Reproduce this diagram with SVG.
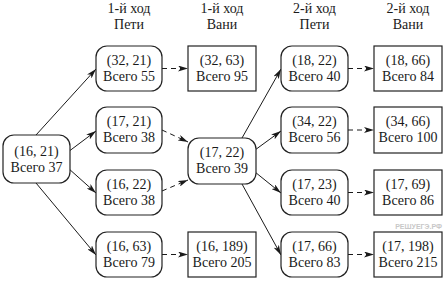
<svg xmlns="http://www.w3.org/2000/svg" width="444" height="281" viewBox="0 0 444 281">
<style>
text{font-family:"Liberation Serif","Times New Roman",serif;font-size:14px;fill:#1a1a1a;text-anchor:middle}
.n{fill:#fff;stroke:#222;stroke-width:1.2}
.c{stroke:#1a1a1a;stroke-width:1;fill:none}
.d{stroke-dasharray:5,4}
.wm{font-family:"Liberation Sans",Arial,sans-serif;font-size:7px;fill:#c8c8c8;font-weight:bold;text-anchor:end}
</style>
<defs>
<marker id="a" viewBox="0 0 10 6" refX="10" refY="3" markerWidth="10" markerHeight="6" markerUnits="userSpaceOnUse" orient="auto">
<path d="M0,0 L10,3 L0,6 L2.5,3 z" fill="#1a1a1a"/>
</marker>
</defs>
<g id="headers">
<text x="129" y="13">1-й ход</text><text x="129" y="29">Пети</text>
<text x="222" y="13">1-й ход</text><text x="222" y="29">Вани</text>
<text x="314.5" y="13">2-й ход</text><text x="314.5" y="29">Пети</text>
<text x="408" y="13">2-й ход</text><text x="408" y="29">Вани</text>
</g>
<g id="connectors">
<line class="c" x1="36" y1="135" x2="96" y2="69" marker-end="url(#a)"/>
<line class="c" x1="68" y1="152" x2="96" y2="131" marker-end="url(#a)"/>
<line class="c" x1="68" y1="168" x2="96" y2="193" marker-end="url(#a)"/>
<line class="c" x1="36" y1="183" x2="96" y2="255" marker-end="url(#a)"/>
<line class="c d" x1="162" y1="68.5" x2="188" y2="68.5" marker-end="url(#a)"/>
<line class="c d" x1="162" y1="130" x2="188" y2="142" marker-end="url(#a)"/>
<line class="c d" x1="162" y1="191" x2="188" y2="180" marker-end="url(#a)"/>
<line class="c d" x1="162" y1="254.5" x2="188" y2="254.5" marker-end="url(#a)"/>
<line class="c" x1="242" y1="138" x2="281" y2="69" marker-end="url(#a)"/>
<line class="c" x1="255" y1="150" x2="281" y2="131" marker-end="url(#a)"/>
<line class="c" x1="255" y1="172" x2="281" y2="193" marker-end="url(#a)"/>
<line class="c" x1="242" y1="184" x2="281" y2="255" marker-end="url(#a)"/>
<line class="c d" x1="348" y1="68.5" x2="374" y2="68.5" marker-end="url(#a)"/>
<line class="c d" x1="348" y1="130" x2="374" y2="130" marker-end="url(#a)"/>
<line class="c d" x1="348" y1="192.5" x2="374" y2="192.5" marker-end="url(#a)"/>
<line class="c d" x1="348" y1="254.5" x2="374" y2="254.5" marker-end="url(#a)"/>
</g>
<g id="root"><rect class="n" x="3" y="135" width="67" height="48" rx="11"/><text x="36.5" y="156">(16, 21)</text><text x="36.5" y="172">Всего 37</text></g>
<g id="p1a"><rect class="n" x="96" y="46" width="66" height="45" rx="11"/><text x="129" y="64.5">(32, 21)</text><text x="129" y="80.5">Всего 55</text></g>
<g id="p1b"><rect class="n" x="96" y="107" width="66" height="46" rx="11"/><text x="129" y="126">(17, 21)</text><text x="129" y="142">Всего 38</text></g>
<g id="p1c"><rect class="n" x="96" y="170" width="66" height="45" rx="11"/><text x="129" y="188.5">(16, 22)</text><text x="129" y="204.5">Всего 38</text></g>
<g id="p1d"><rect class="n" x="96" y="232" width="66" height="45" rx="11"/><text x="129" y="250.5">(16, 63)</text><text x="129" y="266.5">Всего 79</text></g>
<g id="v1a"><rect class="n" x="188" y="46" width="68" height="45"/><text x="222" y="64.5">(32, 63)</text><text x="222" y="80.5">Всего 95</text></g>
<g id="v1b"><rect class="n" x="188" y="138" width="68" height="46" rx="11"/><text x="222" y="157">(17, 22)</text><text x="222" y="173">Всего 39</text></g>
<g id="v1c"><rect class="n" x="188" y="232" width="68" height="45"/><text x="222" y="250.5">(16, 189)</text><text x="222" y="266.5">Всего 205</text></g>
<g id="p2a"><rect class="n" x="281" y="46" width="67" height="45" rx="11"/><text x="314.5" y="64.5">(18, 22)</text><text x="314.5" y="80.5">Всего 40</text></g>
<g id="p2b"><rect class="n" x="281" y="107" width="67" height="46" rx="11"/><text x="314.5" y="126">(34, 22)</text><text x="314.5" y="142">Всего 56</text></g>
<g id="p2c"><rect class="n" x="281" y="170" width="67" height="45" rx="11"/><text x="314.5" y="188.5">(17, 23)</text><text x="314.5" y="204.5">Всего 40</text></g>
<g id="p2d"><rect class="n" x="281" y="232" width="67" height="45" rx="11"/><text x="314.5" y="250.5">(17, 66)</text><text x="314.5" y="266.5">Всего 83</text></g>
<g id="v2a"><rect class="n" x="374" y="46" width="68" height="45"/><text x="408" y="64.5">(18, 66)</text><text x="408" y="80.5">Всего 84</text></g>
<g id="v2b"><rect class="n" x="374" y="107" width="68" height="46"/><text x="408" y="126">(34, 66)</text><text x="408" y="142">Всего 100</text></g>
<g id="v2c"><rect class="n" x="374" y="170" width="68" height="45"/><text x="408" y="188.5">(17, 69)</text><text x="408" y="204.5">Всего 86</text></g>
<g id="v2d"><rect class="n" x="374" y="232" width="68" height="45"/><text x="408" y="250.5">(17, 198)</text><text x="408" y="266.5">Всего 215</text></g>
<text class="wm" x="442" y="229">РЕШУЕГЭ.РФ</text>
</svg>
